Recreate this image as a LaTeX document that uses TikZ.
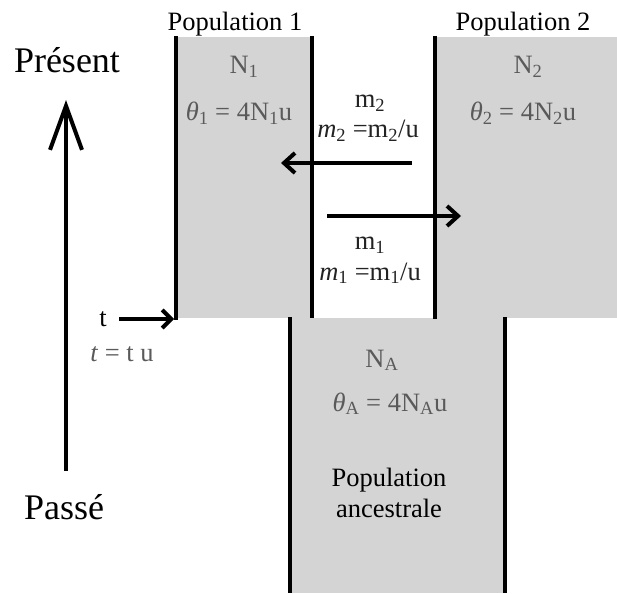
\documentclass[tikz,border=0pt]{standalone}
\usepackage{fontspec}
\setmainfont{Liberation Serif}
\usetikzlibrary{arrows.meta}
\definecolor{popgray}{RGB}{212,212,212}
\definecolor{labgray}{RGB}{90,90,90}
\definecolor{darklab}{RGB}{35,35,35}
\begin{document}
\begin{tikzpicture}[x=1pt,y=-1pt,
  wall/.style={line width=4pt},
  lbl/.style={anchor=base,inner sep=0pt,font=\fontsize{26.5}{30}\selectfont},
  glbl/.style={lbl,text=labgray},
  mlbl/.style={lbl,text=darklab},
  big/.style={anchor=base,inner sep=0pt,font=\fontsize{36}{40}\selectfont},
  mig/.style={line width=4pt,-{Straight Barb[length=11pt,width=20pt]}},
  timearrow/.style={line width=4pt,-{Straight Barb[length=44pt,width=32pt]}}]
\useasboundingbox (0,0) rectangle (617,593);
% grey population areas
\fill[popgray] (176,37) rectangle (312,318);
\fill[popgray] (435,37) rectangle (617,318);
\fill[popgray] (290,318) rectangle (505,593);
% walls
\draw[wall] (176,36) -- (176,320);
\draw[wall] (312,36) -- (312,318);
\draw[wall] (435,36) -- (435,319);
\draw[wall] (290,317) -- (290,593);
\draw[wall] (505,317) -- (505,593);
% labels
\node[lbl] (pop1) at (235,31) {Population 1};
\node[lbl] (pop2) at (523,31) {Population 2};
\node[big] (pres) at (67,73) {Présent};
\node[big] (pass) at (64,519) {Passé};
\node[glbl] (n1) at (244,74) {N\textsubscript{1}};
\node[glbl] (th1) at (239,121) {\textit{θ}\textsubscript{1} = 4N\textsubscript{1}u};
\node[glbl] (n2) at (528,74) {N\textsubscript{2}};
\node[glbl] (th2) at (523,121) {\textit{θ}\textsubscript{2} = 4N\textsubscript{2}u};
\node[mlbl] (m2a) at (370,108) {m\textsubscript{2}};
\node[mlbl] (m2b) at (368,138) {\textit{m}\textsubscript{2} =m\textsubscript{2}/u};
\node[mlbl] (m1a) at (370,250) {m\textsubscript{1}};
\node[mlbl] (m1b) at (370,280) {\textit{m}\textsubscript{1} =m\textsubscript{1}/u};
\node[lbl] (tl) at (103,326) {t};
\node[glbl] (tu) at (122,361) {\textit{t} = t u};
\node[glbl] (na) at (382,367) {N\textsubscript{A}};
\node[glbl] (tha) at (390,411) {\textit{θ}\textsubscript{A} = 4N\textsubscript{A}u};
\node[lbl] (anc1) at (389,486) {Population};
\node[lbl] (anc2) at (389,517) {ancestrale};
% arrows
\coordinate (m2s) at (412,163);
\coordinate (m2e) at (281,163);
\coordinate (m1s) at (327,216);
\coordinate (m1e) at (461,216);
\coordinate (ts) at (119,319);
\coordinate (te) at (174,319);
\coordinate (past) at (66,471);
\coordinate (now) at (66,100);
\draw[mig] (m2s) -- (m2e);
\draw[mig] (m1s) -- (m1e);
\draw[line width=4pt,-{Straight Barb[length=9pt,width=18pt]}] (ts) -- (te);
\draw[timearrow] (past) -- (now);
\end{tikzpicture}
\end{document}
